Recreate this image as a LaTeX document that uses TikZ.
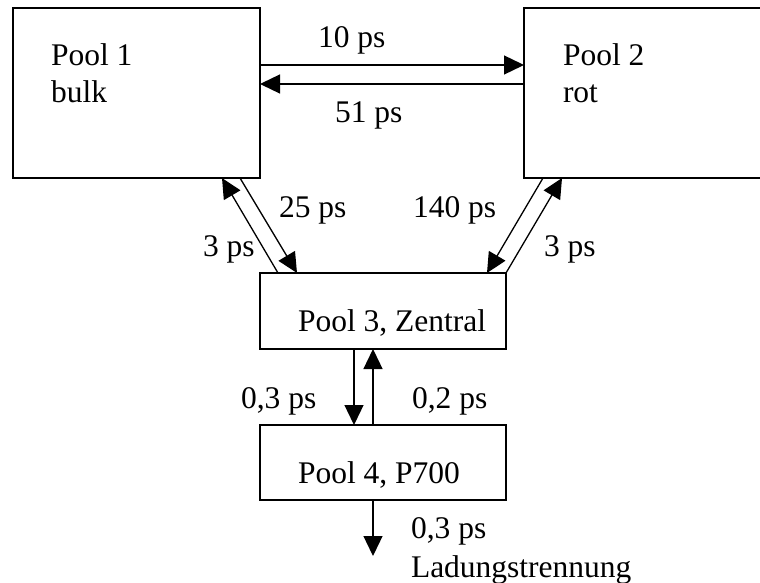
\documentclass[tikz,border=0pt]{standalone}
\usepackage{fontspec}
\setmainfont{Liberation Serif}
\usetikzlibrary{arrows.meta,calc}
\begin{document}
\begin{tikzpicture}[x=1pt,y=-1pt,
  every node/.style={font=\fontsize{31.5}{36}\selectfont, inner sep=0pt, outer sep=0pt},
  pool/.style={draw, line width=1.3pt, anchor=north west},
  lbl/.style={anchor=base west},
  arr/.style={line width=1.3pt, -{Triangle[length=20pt,width=19pt]}}]
\useasboundingbox (0,0) rectangle (760,583);
% boxes
\node[pool, minimum width=247pt, minimum height=170pt] (p1) at (13,8) {};
\node[pool, minimum width=250pt, minimum height=170pt] (p2) at (524,8) {};
\node[pool, minimum width=246pt, minimum height=76pt] (p3) at (260,273) {};
\node[pool, minimum width=246pt, minimum height=75pt] (p4) at (260,425) {};
% box texts
\node[lbl] (t1a) at (51,66) {Pool 1};
\node[lbl] (t1b) at (51,103) {bulk};
\node[lbl] (t2a) at (563,66) {Pool 2};
\node[lbl] (t2b) at (563,103) {rot};
\node[lbl] (t3) at (298,331) {Pool 3, Zentral};
\node[lbl] (t4) at (298,483) {Pool 4, P700};
% connectors pool1 <-> pool2
\draw[arr] ($(p1.north east)+(0,57)$) -- ($(p2.north west)+(0,57)$);
\draw[arr] ($(p2.north west)+(0,76)$) -- ($(p1.north east)+(0,76)$);
% pool1 <-> pool3
\draw[arr] ($(p1.south east)+(-20,0)$) -- ($(p3.north west)+(37,0)$);
\draw[arr] ($(p3.north west)+(18,0)$) -- ($(p1.south east)+(-38,0)$);
% pool2 <-> pool3
\draw[arr] ($(p2.south west)+(19,0)$) -- ($(p3.north east)+(-19,0)$);
\draw[arr] (p3.north east) -- ($(p2.south west)+(38,0)$);
% pool3 <-> pool4
\draw[arr] ($(p3.south west)+(94,0)$) -- ($(p4.north west)+(94,0)$);
\draw[arr] ($(p4.north west)+(113,0)$) -- ($(p3.south west)+(113,0)$);
% pool4 -> out
\coordinate (out) at ($(p4.south west)+(113,56)$);
\draw[arr] ($(p4.south west)+(113,0)$) -- (out);
% labels
\node[lbl] (l10) at (318,48) {10 ps};
\node[lbl] (l51) at (335,123) {51 ps};
\node[lbl] (l25) at (279,217) {25 ps};
\node[lbl] (l140) at (413,217) {140 ps};
\node[lbl] (l3a) at (203,256) {3 ps};
\node[lbl] (l3b) at (544,256) {3 ps};
\node[lbl] (l03) at (241,408) {0,3 ps};
\node[lbl] (l02) at (412,408) {0,2 ps};
\node[lbl] (l03b) at (411,538) {0,3 ps};
\node[lbl] (lad) at (411,577) {Ladungstrennung};
\end{tikzpicture}
\end{document}
